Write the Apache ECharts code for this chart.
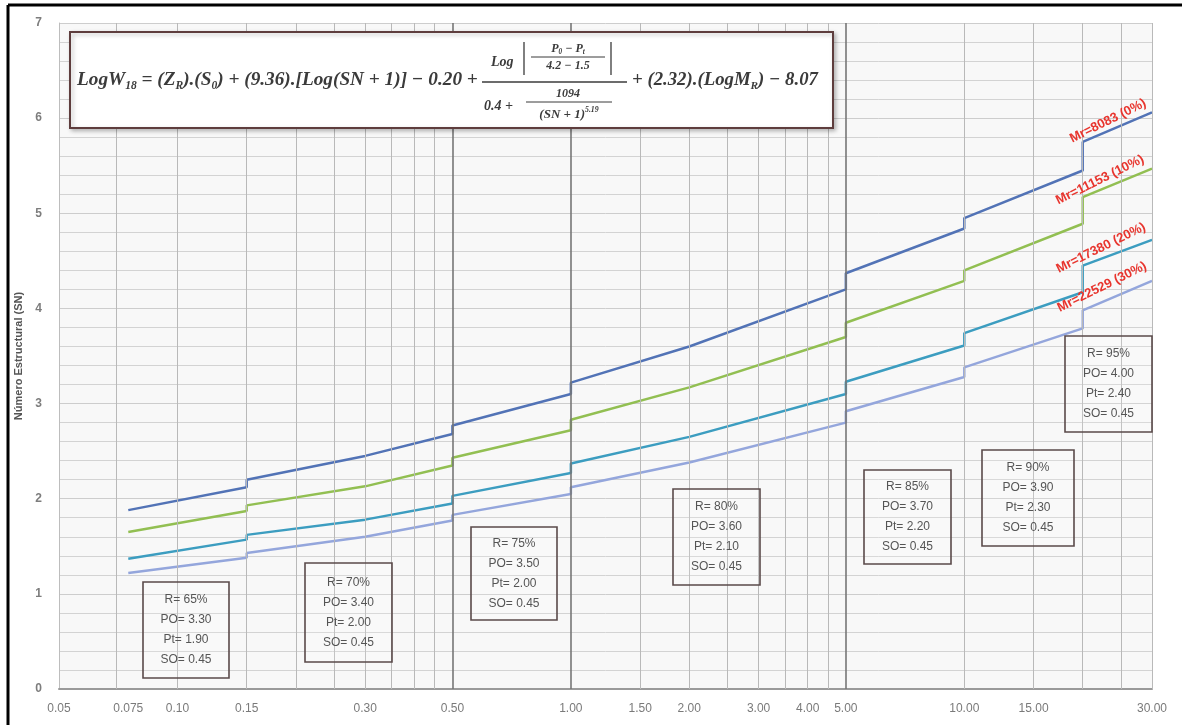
<!DOCTYPE html>
<html><head><meta charset="utf-8">
<script src="https://cdn.jsdelivr.net/npm/echarts@6/dist/echarts.min.js"></script>
<style>html,body{margin:0;padding:0;background:#fff}#c{width:1182px;height:725px}</style>
</head><body><div id="c"></div>
<script>
// ---------------- DATA ----------------
const xPoints = [0.075, 0.15, 0.15, 0.3, 0.5, 0.5, 1, 1, 2, 5, 5, 10, 10, 20, 20, 30];
const snMr8083  = [1.88, 2.12, 2.20, 2.45, 2.68, 2.77, 3.10, 3.22, 3.60, 4.20, 4.37, 4.84, 4.95, 5.45, 5.75, 6.06];
const snMr11153 = [1.65, 1.87, 1.93, 2.13, 2.35, 2.43, 2.72, 2.83, 3.17, 3.70, 3.85, 4.29, 4.40, 4.89, 5.17, 5.47];
const snMr17380 = [1.37, 1.57, 1.62, 1.78, 1.95, 2.03, 2.27, 2.37, 2.65, 3.10, 3.23, 3.61, 3.74, 4.17, 4.45, 4.72];
const snMr22529 = [1.22, 1.38, 1.43, 1.60, 1.77, 1.83, 2.05, 2.12, 2.38, 2.80, 2.92, 3.28, 3.38, 3.79, 3.98, 4.29];
const curveLabels = ['Mr=8083 (0%)', 'Mr=11153 (10%)', 'Mr=17380 (20%)', 'Mr=22529 (30%)'];
const xTickLabels = [0.05, 0.075, 0.1, 0.15, 0.3, 0.5, 1, 1.5, 2, 3, 4, 5, 10, 15, 30];
const xGridLines = [0.075, 0.1, 0.15, 0.2, 0.25, 0.3, 0.35, 0.4, 0.45, 0.5, 1, 1.5, 2, 2.5, 3, 3.5, 4, 4.5, 5, 10, 15, 20, 25, 30];
const xMajorLines = [0.5, 1, 5];
const yTickLabels = [0, 1, 2, 3, 4, 5, 6, 7];
const boxTexts = [
  ['R= 65%', 'PO= 3.30', 'Pt= 1.90', 'SO= 0.45'],
  ['R= 70%', 'PO= 3.40', 'Pt= 2.00', 'SO= 0.45'],
  ['R= 75%', 'PO= 3.50', 'Pt= 2.00', 'SO= 0.45'],
  ['R= 80%', 'PO= 3.60', 'Pt= 2.10', 'SO= 0.45'],
  ['R= 85%', 'PO= 3.70', 'Pt= 2.20', 'SO= 0.45'],
  ['R= 90%', 'PO= 3.90', 'Pt= 2.30', 'SO= 0.45'],
  ['R= 95%', 'PO= 4.00', 'Pt= 2.40', 'SO= 0.45']
];
const yAxisTitle = 'Número Estructural (SN)';

// ---------------- STYLE / LAYOUT ----------------
const lineColors = ['#5273b6', '#92bf52', '#3c9dc0', '#94a6dc'];
const boxRects = [[143,582,86,96],[305,563,87,99],[471,527,86,93],[673,489,87,96],[864,470,87,94],[982,450,92,96],[1065,336,87,96]];
const curveLabelPos = [[1108,121],[1100,180],[1101,248],[1102,287]];

const chart = echarts.init(document.getElementById('c'), null, {renderer: 'canvas'});
const seriesData = [snMr8083, snMr11153, snMr17380, snMr22529];

const option = {
  animation: false,
  backgroundColor: '#ffffff',
  grid: {left: 59, right: 30, top: 23, bottom: 36, show: true, backgroundColor: '#f8f8f8', borderWidth: 0},
  xAxis: {
    type: 'log', logBase: 10, min: 0.05, max: 30,
    axisLine: {show: true, lineStyle: {color: '#9a9a9a', width: 2}},
    axisTick: {show: false}, axisLabel: {show: false}, splitLine: {show: false}, minorSplitLine: {show: false}
  },
  yAxis: {
    type: 'value', min: 0, max: 7, interval: 1,
    name: yAxisTitle, nameLocation: 'middle', nameGap: 34,
    nameTextStyle: {fontFamily: 'Liberation Sans', fontSize: 11, fontWeight: 'bold', color: '#555'},
    axisLine: {show: true, lineStyle: {color: '#bdbdbd', width: 1}},
    axisTick: {show: false},
    axisLabel: {fontFamily: 'Liberation Sans', fontSize: 12, fontWeight: 'bold', color: '#7d7d7d', margin: 17,
      formatter: v => yTickLabels.includes(v) ? String(v) : ''},
    splitLine: {show: true, lineStyle: {color: '#cdcdcd', width: 1}},
    minorTick: {show: false, splitNumber: 5},
    minorSplitLine: {show: true, lineStyle: {color: '#d3d3d3', width: 1}}
  },
  series: [
    {
      type: 'line', data: [], z: 1, silent: true,
      markLine: {
        silent: true, symbol: 'none', animation: false, label: {show: false},
        data: xGridLines.map(v => ({xAxis: v, lineStyle: {type: 'solid',
          color: xMajorLines.includes(v) ? '#767676' : '#b9b9b9',
          width: xMajorLines.includes(v) ? 1.6 : 1}}))
      }
    }
  ].concat(seriesData.map((arr, i) => ({
    name: curveLabels[i], type: 'line', z: 3, showSymbol: false, symbol: 'none',
    lineStyle: {color: lineColors[i], width: 2.5},
    data: xPoints.map((x, k) => [x, arr[k]])
  })))
};
chart.setOption(option);

// ---------------- ANNOTATIONS ----------------
const g = [];
xTickLabels.forEach(v => {
  const px = chart.convertToPixel({xAxisIndex: 0}, v);
  g.push({type: 'text', x: px, y: 709, silent: true,
    style: {text: v === 0.075 ? '0.075' : v.toFixed(2), align: 'center', verticalAlign: 'middle',
      font: '12px "Liberation Sans"', fill: '#7a7a7a'}});
});
boxRects.forEach((r, i) => {
  g.push({type: 'rect', shape: {x: r[0], y: r[1], width: r[2], height: r[3]}, silent: true,
    style: {fill: 'rgba(255,255,255,0.15)', stroke: '#5a4a4a', lineWidth: 1.6}, z: 10});
  g.push({type: 'text', x: r[0] + r[2] / 2, y: r[1] + r[3] / 2, silent: true, z: 11,
    style: {text: boxTexts[i].join('\n'), align: 'center', verticalAlign: 'middle', lineHeight: 20,
      font: '12px "Liberation Sans"', fill: '#555'}});
});
curveLabelPos.forEach((p, i) => {
  g.push({type: 'text', x: p[0], y: p[1], rotation: 0.46, silent: true, z: 12,
    style: {text: curveLabels[i], align: 'center', verticalAlign: 'middle',
      font: 'bold 13px "Liberation Sans"', fill: '#e8352e'}});
});
g.push({type: 'line', shape: {x1: 8, y1: 5, x2: 8, y2: 725}, style: {stroke: '#000', lineWidth: 3}, silent: true});
g.push({type: 'line', shape: {x1: 8, y1: 5, x2: 1182, y2: 5}, style: {stroke: '#000', lineWidth: 3}, silent: true});

// formula box
g.push({type: 'rect', shape: {x: 70, y: 32, width: 763, height: 96}, z: 20, silent: true,
  style: {fill: '#ffffff', stroke: '#5e3d3d', lineWidth: 2, shadowBlur: 4, shadowOffsetX: 2, shadowOffsetY: 2, shadowColor: 'rgba(0,0,0,0.25)'}});
const mctx = document.createElement('canvas').getContext('2d');
const F = s => 'italic bold ' + s.toFixed(2) + 'px "Liberation Serif"';
function measure(t, f) { mctx.font = f; return mctx.measureText(t).width; }
function run(pieces, x0, yMid, size) {
  let x = x0; const els = [];
  pieces.forEach(p => {
    const s = (p.sub || p.sup) ? size * 0.6 : size;
    const dy = p.sub ? size * 0.3 : (p.sup ? -size * 0.38 : 0);
    const f = F(s);
    els.push({type: 'text', x: x, y: yMid + dy, z: 21, silent: true,
      style: {text: p.t, font: f, fill: '#3b3b3b', align: 'left', verticalAlign: 'middle'}});
    x += measure(p.t, f);
  });
  return {els: els, width: x - x0};
}
function fit(pieces, x0, yMid, w) { const b = run(pieces, x0, yMid, 16).width; return run(pieces, x0, yMid, 16 * w / b).els; }
function centered(pieces, cx, yMid, size) { const w = run(pieces, 0, yMid, size).width; return run(pieces, cx - w / 2, yMid, size).els; }
const L = (x1, y1, x2, y2, w) => ({type: 'line', z: 21, silent: true, shape: {x1, y1, x2, y2}, style: {stroke: '#3b3b3b', lineWidth: w || 1.3}});

g.push(...fit([{t: 'LogW'}, {t: '18', sub: 1}, {t: ' = (Z'}, {t: 'R', sub: 1}, {t: ').(S'}, {t: '0', sub: 1},
  {t: ') + (9.36).[Log(SN + 1)] − 0.20 +'}], 77, 80, 401));
g.push(...fit([{t: '+ (2.32).(LogM'}, {t: 'R', sub: 1}, {t: ') − 8.07'}], 632, 80, 186));
// fraction
g.push(L(482, 82, 627, 82, 1.4));
g.push(...run([{t: 'Log'}], 491, 62, 14).els);
g.push(L(524, 42, 524, 75, 1.3), L(611, 42, 611, 75, 1.3));
g.push(...centered([{t: 'P'}, {t: '0', sub: 1}, {t: ' − P'}, {t: 't', sub: 1}], 568, 49, 12));
g.push(L(531, 57, 605, 57, 1));
g.push(...centered([{t: '4.2 − 1.5'}], 568, 66, 12));
g.push(...run([{t: '0.4 +'}], 484, 106, 14).els);
g.push(...centered([{t: '1094'}], 568, 94, 12));
g.push(L(526, 102, 612, 102, 1));
g.push(...centered([{t: '(SN + 1)'}, {t: '5.19', sup: 1}], 569, 115, 13));

chart.setOption({graphic: {elements: g}});
</script>
</body></html>
